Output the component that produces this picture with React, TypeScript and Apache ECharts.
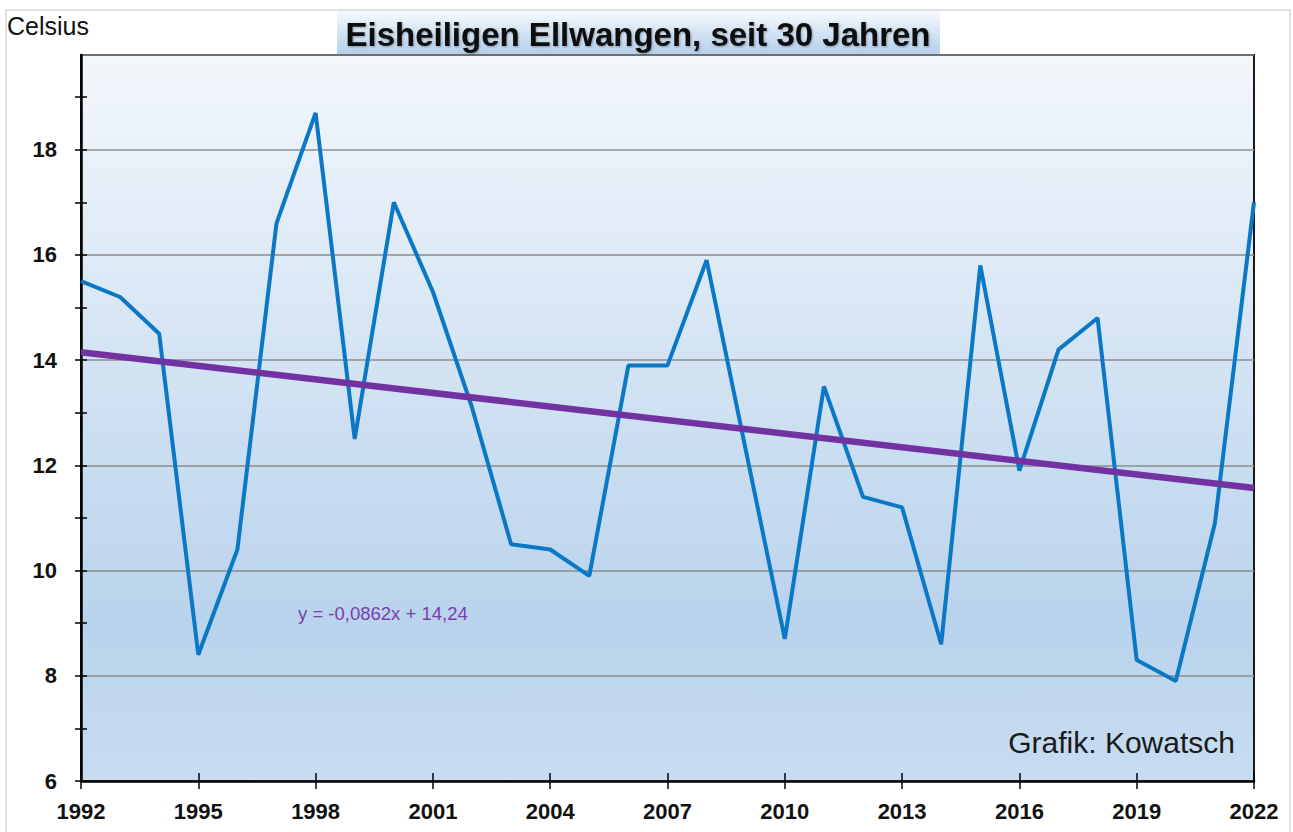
import React, { useEffect, useRef } from "react";
import * as echarts from "echarts";

const years: number[] = [
  1992, 1993, 1994, 1995, 1996, 1997, 1998, 1999, 2000, 2001, 2002,
  2003, 2004, 2005, 2006, 2007, 2008, 2009, 2010, 2011, 2012, 2013,
  2014, 2015, 2016, 2017, 2018, 2019, 2020, 2021, 2022,
];
const temps: number[] = [
  15.5, 15.2, 14.5, 8.4, 10.4, 16.6, 18.7, 12.5, 17.0, 15.3, 13.1,
  10.5, 10.4, 9.9, 13.9, 13.9, 15.9, 12.3, 8.7, 13.5, 11.4, 11.2,
  8.6, 15.8, 11.9, 14.2, 14.8, 8.3, 7.9, 10.9, 17.0,
];
const trendYears: number[] = [1992, 2022];
const trendValues: number[] = [14.15, 11.57];
const yTickValues: number[] = [6, 7, 8, 9, 10, 11, 12, 13, 14, 15, 16, 17, 18, 19];
const yLabelValues: number[] = [6, 8, 10, 12, 14, 16, 18];

const titleText = "Eisheiligen Ellwangen, seit 30 Jahren";
const unitText = "Celsius";
const equationText = "y = -0,0862x + 14,24";
const creditText = "Grafik: Kowatsch";

export default function App() {
  const ref = useRef<HTMLDivElement>(null);
  useEffect(() => {
    if (!ref.current) return;
    const chart = echarts.init(ref.current, undefined, { renderer: "svg" });
    const font = "'Liberation Sans', Arial, sans-serif";
    const yBase = {
      type: "value",
      min: 6,
      max: 19.8,
      position: "left",
      axisLine: { show: false },
      axisLabel: { show: false },
      axisTick: { show: false },
      splitLine: { show: false },
    };
    const option: any = {
      animation: false,
      backgroundColor: "#ffffff",
      grid: {
        left: 81,
        right: 39,
        top: 55,
        bottom: 51,
        show: true,
        borderColor: "#1a1a1a",
        borderWidth: 2,
        backgroundColor: new echarts.graphic.LinearGradient(0, 0, 0, 1, [
          { offset: 0, color: "#f3f7fc" },
          { offset: 0.78, color: "#b9d3ec" },
          { offset: 1, color: "#c7dcf1" },
        ]),
        outerBoundsMode: "none",
      },
      xAxis: [
        {
          type: "value",
          min: 1992,
          max: 2022,
          interval: 3,
          axisLine: { show: true, onZero: false, lineStyle: { color: "#000", width: 2.5 } },
          axisTick: { show: true, length: 8, lineStyle: { color: "#000", width: 1.5 } },
          axisLabel: {
            show: true,
            margin: 19,
            formatter: (v: number) => String(v),
            color: "#111",
            fontFamily: font,
            fontWeight: "bold",
            fontSize: 22,
          },
          splitLine: { show: false },
        },
        {
          type: "value",
          min: 1992,
          max: 2022,
          interval: 3,
          position: "bottom",
          axisLine: { show: false },
          axisTick: { show: true, inside: true, length: 8, lineStyle: { color: "#000", width: 1.5 } },
          axisLabel: { show: false },
          splitLine: { show: false },
        },
      ],
      yAxis: [
        {
          ...yBase,
          axisLine: { show: true, onZero: false, lineStyle: { color: "#000", width: 2.5 } },
          axisTick: {
            show: true,
            length: 6,
            customValues: yTickValues,
            lineStyle: { color: "#000", width: 1.5 },
          },
          axisLabel: {
            show: true,
            margin: 24,
            customValues: yLabelValues,
            color: "#111",
            fontFamily: font,
            fontWeight: "bold",
            fontSize: 22,
          },
        },
        {
          ...yBase,
          interval: 2,
          splitLine: { show: true, lineStyle: { color: "#8c8c8c", width: 1.5 } },
        },
        {
          ...yBase,
          axisTick: {
            show: true,
            inside: true,
            length: 6,
            customValues: yTickValues,
            lineStyle: { color: "#000", width: 1.5 },
          },
        },
      ],
      series: [
        {
          type: "line",
          xAxisIndex: 0,
          yAxisIndex: 0,
          data: years.map((y, i) => [y, temps[i]]),
          showSymbol: false,
          symbol: "none",
          lineStyle: { color: "#0a78c4", width: 4 },
          z: 3,
        },
        {
          type: "line",
          xAxisIndex: 0,
          yAxisIndex: 0,
          data: trendYears.map((y, i) => [y, trendValues[i]]),
          showSymbol: false,
          symbol: "none",
          lineStyle: { color: "#7232a2", width: 6.5 },
          z: 4,
        },
      ],
      graphic: [
        {
          type: "rect",
          z: 0,
          silent: true,
          shape: { x: 6, y: 10, width: 1284, height: 840 },
          style: { fill: "none", stroke: "#d9d9d9", lineWidth: 1.5 },
        },
        {
          type: "text",
          z: 10,
          left: 7,
          top: 13,
          style: { text: unitText, fill: "#111", font: `25px ${font}` },
        },
        {
          type: "rect",
          z: 10,
          shape: { x: 337, y: 11, width: 603, height: 43 },
          style: {
            fill: new echarts.graphic.LinearGradient(0, 0, 0, 1, [
              { offset: 0, color: "#f6f9fd" },
              { offset: 1, color: "#b4cfeb" },
            ]),
            stroke: "none",
          },
        },
        {
          type: "text",
          z: 11,
          x: 638,
          y: 34,
          style: {
            text: titleText,
            fill: "#0a0a0a",
            font: `bold 33px ${font}`,
            textAlign: "center",
            textVerticalAlign: "middle",
            textShadowColor: "rgba(0,0,0,0.3)",
            textShadowBlur: 2,
            textShadowOffsetX: 1,
            textShadowOffsetY: 1,
          },
        },
        {
          type: "text",
          z: 11,
          x: 298,
          y: 613,
          style: {
            text: equationText,
            fill: "#7b3eb0",
            font: `18.5px ${font}`,
            textAlign: "left",
            textVerticalAlign: "middle",
          },
        },
        {
          type: "text",
          z: 11,
          x: 1235,
          y: 742,
          style: {
            text: creditText,
            fill: "#1a1a1a",
            font: `30px ${font}`,
            textAlign: "right",
            textVerticalAlign: "middle",
          },
        },
      ],
    };
    chart.setOption(option);
    return () => chart.dispose();
  }, []);
  return (
    <div
      ref={ref}
      style={{ position: "fixed", left: 0, top: 0, width: 1293, height: 832, background: "#fff" }}
    />
  );
}
